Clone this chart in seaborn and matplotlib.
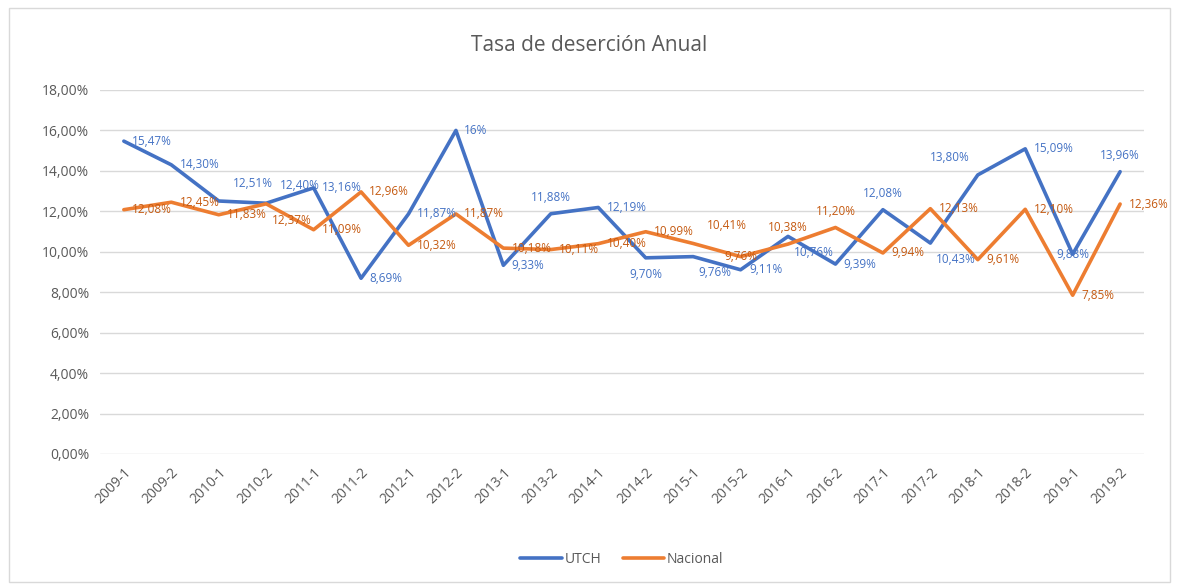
import matplotlib
matplotlib.use("Agg")
import matplotlib.pyplot as plt
from matplotlib.patches import Rectangle
from matplotlib.ticker import FuncFormatter
import numpy as np
import pandas as pd
import seaborn as sns

# Datos
periodos = ['2009-1', '2009-2', '2010-1', '2010-2', '2011-1', '2011-2',
            '2012-1', '2012-2', '2013-1', '2013-2', '2014-1', '2014-2',
            '2015-1', '2015-2', '2016-1', '2016-2', '2017-1', '2017-2',
            '2018-1', '2018-2', '2019-1', '2019-2']
utch = [15.47, 14.30, 12.51, 12.40, 13.16, 8.69, 11.87, 16.00, 9.33, 11.88, 12.19,
        9.70, 9.76, 9.11, 10.76, 9.39, 12.08, 10.43, 13.80, 15.09, 9.88, 13.96]
nacional = [12.08, 12.45, 11.83, 12.37, 11.09, 12.96, 10.32, 11.87, 10.18, 10.11, 10.40,
            10.99, 10.41, 9.76, 10.38, 11.20, 9.94, 12.13, 9.61, 12.10, 7.85, 12.36]
series = ['UTCH', 'Nacional']

# posicion de cada etiqueta (como quedaron en el grafico de Excel)
pos_utch = ['r', 'r', 'ar', 'ar', 'r', 'r', 'r', 'r', 'r', 'a', 'r',
            'b', 'br', 'r', 'br', 'r', 'a', 'br', 'al', 'r', 'c', 'a']
pos_nac = ['r', 'r', 'r', 'br', 'r', 'r', 'r', 'r', 'r', 'r', 'r',
           'r', 'ar', 'c', 'a', 'a', 'r', 'r', 'r', 'r', 'r', 'r']
OFFSETS = {
    'r': ((6, 0), 'left', 'center'),
    'a': ((0, 7), 'center', 'bottom'),
    'b': ((0, -7), 'center', 'top'),
    'ar': ((10, 8), 'left', 'bottom'),
    'br': ((4, -7), 'left', 'top'),
    'al': ((-6, 8), 'right', 'bottom'),
    'c': ((0, 0), 'center', 'center'),
}

BLUE = '#4472C4'
ORANGE = '#ED7D31'
GRAY = '#595959'

sns.set_style('white')
plt.rcParams['font.family'] = ['Open Sans', 'DejaVu Sans']

df = pd.DataFrame({
    'idx': list(range(len(periodos))) * 2,
    'valor': utch + nacional,
    'serie': ['UTCH'] * len(utch) + ['Nacional'] * len(nacional),
})

fig = plt.figure(figsize=(11.78, 5.87), dpi=100)
ax = fig.add_axes([0.085, 0.2266, 0.886, 0.6201])

sns.lineplot(data=df, x='idx', y='valor', hue='serie', hue_order=series,
             palette=[BLUE, ORANGE], linewidth=2.6, ax=ax, legend=True)

# etiquetas de datos
label_colors = {'UTCH': '#4472C4', 'Nacional': '#C55A11'}
for name, vals, pos in (('UTCH', utch, pos_utch), ('Nacional', nacional, pos_nac)):
    for i, v in enumerate(vals):
        txt = '16%' if v == 16.00 else f'{v:.2f}%'.replace('.', ',')
        off, ha, va = OFFSETS[pos[i]]
        ax.annotate(txt, (i, v), xytext=off, textcoords='offset points',
                    ha=ha, va=va, fontsize=8.5, color=label_colors[name])

ax.set_xlim(-0.5, len(periodos) - 0.5)
ax.set_ylim(0, 18)
ax.set_yticks(np.arange(0, 18.1, 2))
ax.yaxis.set_major_formatter(FuncFormatter(lambda y, _: f'{y:.2f}%'.replace('.', ',')))
ax.set_xticks(range(len(periodos)))
ax.set_xticklabels(periodos, rotation=45, ha='right', rotation_mode='anchor')
ax.tick_params(axis='both', labelsize=10, colors=GRAY, length=0, pad=8)
ax.set_xlabel('')
ax.set_ylabel('')
ax.grid(axis='y', color='#D9D9D9', linewidth=1)
ax.set_axisbelow(True)
for s in ax.spines.values():
    s.set_visible(False)

leg = ax.legend(loc='upper center', bbox_to_anchor=(0.5, -0.235), ncol=2,
                frameon=False, fontsize=10, handlelength=3, handletextpad=0.2,
                columnspacing=1.5)
for t in leg.get_texts():
    t.set_color(GRAY)

fig.text(0.5, 0.922, 'Tasa de deserción Anual', ha='center', va='center',
         fontsize=15, color=GRAY)

fig.patches.append(Rectangle((0.008, 0.008), 0.985, 0.978, transform=fig.transFigure,
                             fill=False, edgecolor='#D9D9D9', linewidth=1))

fig.savefig('out.png', dpi=100)
